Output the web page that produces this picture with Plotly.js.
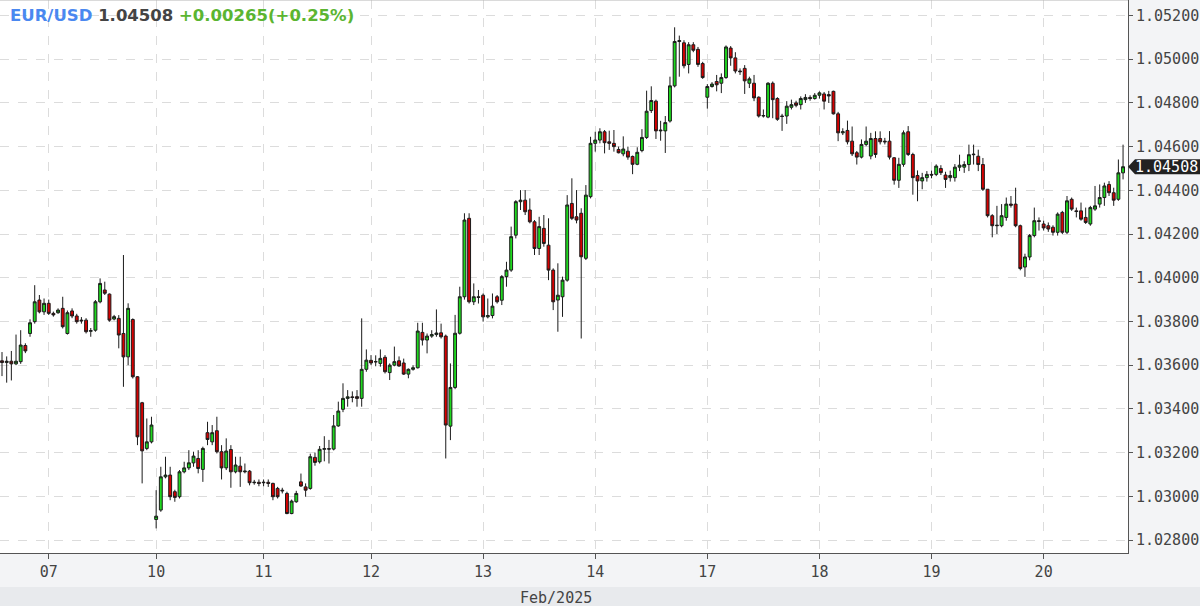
<!DOCTYPE html>
<html>
<head>
<meta charset="utf-8">
<script src="https://cdn.plot.ly/plotly-3.0.1.min.js"></script>
<style>
html,body{margin:0;padding:0;background:#f3f4f6;}
#chart{width:1200px;height:606px;}
</style>
</head>
<body>
<div id="chart"></div>
<script>
// ---- Data: hourly EUR/USD candles, rows are [open, high, low, close] ----
const symbol = "EUR/USD";
const prevClose = 1.04243;
const monthLabel = "Feb/2025";
const dayLabels = ["", "07", "10", "11", "12", "13", "14", "17", "18", "19", "20"];

const day06 = [
  [1.03620,1.03660,1.03550,1.03612],[1.03612,1.03640,1.03520,1.03618],[1.03618,1.03665,1.03530,1.03606],
  [1.03606,1.03740,1.03600,1.03618],[1.03616,1.03760,1.03606,1.03692],[1.03690,1.03700,1.03655,1.03665],
  [1.03745,1.03810,1.03730,1.03794],[1.03799,1.03966,1.03790,1.03890],[1.03898,1.03921,1.03837,1.03844],
  [1.03844,1.03905,1.03830,1.03883]
];
const day07 = [
  [1.03883,1.03900,1.03830,1.03837],[1.03837,1.03845,1.03822,1.03830],[1.03840,1.03860,1.03835,1.03852],
  [1.03860,1.03913,1.03768,1.03776],[1.03745,1.03850,1.03740,1.03840],[1.03848,1.03860,1.03815,1.03825],
  [1.03825,1.03835,1.03790,1.03799],[1.03806,1.03820,1.03790,1.03803],[1.03806,1.03815,1.03745,1.03753],
  [1.03755,1.03770,1.03730,1.03758],[1.03760,1.03898,1.03753,1.03890],[1.03890,1.03997,1.03883,1.03974],
  [1.03944,1.03982,1.03921,1.03929],[1.03925,1.03928,1.03799,1.03806],[1.03811,1.03830,1.03805,1.03822],
  [1.03814,1.03829,1.03677,1.03738],[1.03745,1.04104,1.03501,1.03638],[1.03638,1.03883,1.03600,1.03860],
  [1.03809,1.03814,1.03539,1.03547],[1.03547,1.03550,1.03234,1.03272],[1.03428,1.03432,1.03059,1.03208],
  [1.03219,1.03356,1.03211,1.03249],[1.03249,1.03364,1.03242,1.03326]
];
const day10 = [
  [1.02894,1.03028,1.02853,1.02909],[1.02937,1.03135,1.02929,1.03089],[1.03089,1.03181,1.03082,1.03097],
  [1.03097,1.03135,1.02982,1.02998],[1.03021,1.03030,1.02975,1.02995],[1.02998,1.03120,1.02990,1.03112],
  [1.03112,1.03158,1.03105,1.03130],[1.03130,1.03211,1.03120,1.03153],[1.03153,1.03204,1.03135,1.03184],
  [1.03173,1.03211,1.03105,1.03127],[1.03123,1.03227,1.03066,1.03219],[1.03291,1.03341,1.03234,1.03260],
  [1.03249,1.03326,1.03234,1.03291],[1.03300,1.03364,1.03196,1.03204],[1.03204,1.03234,1.03077,1.03130],
  [1.03130,1.03265,1.03120,1.03207],[1.03214,1.03234,1.03039,1.03112],[1.03112,1.03181,1.03105,1.03143],
  [1.03138,1.03181,1.03043,1.03112],[1.03112,1.03150,1.03105,1.03115],[1.03115,1.03120,1.03050,1.03062],
  [1.03062,1.03075,1.03053,1.03064],[1.03064,1.03077,1.03046,1.03059]
];
const day11 = [
  [1.03062,1.03077,1.03046,1.03064],[1.03064,1.03077,1.03043,1.03059],[1.03059,1.03062,1.02982,1.02998],
  [1.03036,1.03043,1.02990,1.02998],[1.03028,1.03039,1.03013,1.03025],[1.03013,1.03021,1.02918,1.02921],
  [1.02921,1.02985,1.02918,1.02978],[1.02975,1.03025,1.02970,1.03013],[1.03066,1.03104,1.03043,1.03047],
  [1.03043,1.03059,1.02998,1.03028],[1.03036,1.03195,1.03030,1.03181],[1.03178,1.03200,1.03140,1.03155],
  [1.03158,1.03230,1.03150,1.03215],[1.03215,1.03275,1.03160,1.03218],[1.03218,1.03258,1.03150,1.03216],
  [1.03216,1.03372,1.03210,1.03322],[1.03322,1.03433,1.03318,1.03390],[1.03398,1.03517,1.03385,1.03448],
  [1.03448,1.03486,1.03410,1.03455],[1.03455,1.03480,1.03430,1.03452],[1.03456,1.03486,1.03410,1.03448],
  [1.03448,1.03814,1.03410,1.03581],[1.03581,1.03672,1.03570,1.03623]
];
const day12 = [
  [1.03622,1.03646,1.03600,1.03610],[1.03615,1.03645,1.03595,1.03616],[1.03608,1.03672,1.03593,1.03631],
  [1.03636,1.03646,1.03562,1.03570],[1.03566,1.03608,1.03532,1.03600],[1.03600,1.03685,1.03595,1.03616],
  [1.03620,1.03640,1.03593,1.03596],[1.03610,1.03630,1.03555,1.03559],[1.03559,1.03585,1.03540,1.03581],
  [1.03581,1.03600,1.03575,1.03588],[1.03588,1.03794,1.03585,1.03756],[1.03750,1.03794,1.03690,1.03715],
  [1.03715,1.03745,1.03654,1.03733],[1.03733,1.03760,1.03725,1.03740],[1.03740,1.03855,1.03730,1.03747],
  [1.03748,1.03790,1.03722,1.03730],[1.03733,1.03740,1.03173,1.03326],[1.03321,1.03608,1.03257,1.03498],
  [1.03498,1.03830,1.03490,1.03746],[1.03746,1.03959,1.03740,1.03913],[1.03913,1.04295,1.03900,1.04264],
  [1.04272,1.04295,1.03882,1.03890],[1.03890,1.03974,1.03875,1.03913],[1.03913,1.03944,1.03882,1.03910]
];
const day13 = [
  [1.03920,1.03928,1.03799,1.03821],[1.03821,1.03905,1.03814,1.03827],[1.03827,1.03928,1.03814,1.03870],
  [1.03913,1.03921,1.03882,1.03890],[1.03897,1.04012,1.03875,1.04005],[1.04005,1.04073,1.03959,1.04035],
  [1.04035,1.04234,1.04027,1.04188],[1.04195,1.04355,1.04180,1.04348],[1.04348,1.04401,1.04310,1.04355],
  [1.04355,1.04401,1.04287,1.04302],[1.04310,1.04363,1.04249,1.04256],[1.04256,1.04264,1.04104,1.04134],
  [1.04134,1.04279,1.04104,1.04234],[1.04226,1.04287,1.04142,1.04157],[1.04149,1.04272,1.03989,1.04035],
  [1.04035,1.04043,1.03852,1.03890],[1.03898,1.04066,1.03753,1.03920],[1.03913,1.04005,1.03821,1.03989],
  [1.03989,1.04378,1.03982,1.04333],[1.04340,1.04455,1.04264,1.04272],[1.04279,1.04401,1.04249,1.04264],
  [1.04295,1.04318,1.03722,1.04096],[1.04089,1.04424,1.04081,1.04378],[1.04371,1.04645,1.04363,1.04615]
];
const day14 = [
  [1.04615,1.04668,1.04577,1.04630],[1.04630,1.04684,1.04615,1.04668],[1.04668,1.04676,1.04569,1.04618],
  [1.04622,1.04673,1.04585,1.04615],[1.04615,1.04676,1.04577,1.04600],[1.04587,1.04600,1.04569,1.04572],
  [1.04567,1.04647,1.04556,1.04589],[1.04579,1.04600,1.04540,1.04552],[1.04555,1.04559,1.04474,1.04519],
  [1.04519,1.04597,1.04515,1.04574],[1.04582,1.04680,1.04574,1.04642],[1.04642,1.04856,1.04635,1.04762],
  [1.04765,1.04876,1.04754,1.04811],[1.04808,1.04815,1.04635,1.04672],[1.04672,1.04718,1.04627,1.04675],
  [1.04672,1.04740,1.04571,1.04710],[1.04717,1.04920,1.04710,1.04878],[1.04878,1.05146,1.04871,1.05081],
  [1.05081,1.05108,1.04920,1.05085],[1.05075,1.05087,1.04958,1.04970],[1.04976,1.05078,1.04935,1.05066],
  [1.05066,1.05078,1.05032,1.05041],[1.05045,1.05056,1.04965,1.04976],[1.04980,1.04988,1.04910,1.04916]
];
const day17 = [
  [1.04826,1.04886,1.04774,1.04875],[1.04875,1.04895,1.04870,1.04886],[1.04898,1.04928,1.04853,1.04883],
  [1.04890,1.04935,1.04845,1.04916],[1.04916,1.05063,1.04910,1.05056],[1.05051,1.05060,1.04970,1.05006],
  [1.05006,1.05032,1.04935,1.04946],[1.04946,1.04958,1.04928,1.04943],[1.04958,1.04973,1.04841,1.04901],
  [1.04890,1.04920,1.04868,1.04910],[1.04890,1.04928,1.04808,1.04823],[1.04826,1.04830,1.04733,1.04740],
  [1.04740,1.04770,1.04733,1.04742],[1.04735,1.04895,1.04730,1.04890],[1.04890,1.04898,1.04730,1.04815],
  [1.04820,1.04826,1.04718,1.04725],[1.04740,1.04750,1.04672,1.04738],[1.04740,1.04808,1.04704,1.04785],
  [1.04780,1.04815,1.04770,1.04792],[1.04800,1.04810,1.04780,1.04789],[1.04792,1.04830,1.04770,1.04820],
  [1.04815,1.04840,1.04800,1.04825],[1.04825,1.04835,1.04810,1.04820],[1.04820,1.04845,1.04815,1.04835]
];
const day18 = [
  [1.04835,1.04853,1.04820,1.04846],[1.04841,1.04850,1.04770,1.04808],[1.04838,1.04855,1.04800,1.04832],
  [1.04853,1.04856,1.04747,1.04750],[1.04750,1.04759,1.04625,1.04663],[1.04663,1.04684,1.04653,1.04668],
  [1.04674,1.04719,1.04610,1.04622],[1.04625,1.04692,1.04557,1.04567],[1.04572,1.04580,1.04518,1.04552],
  [1.04552,1.04633,1.04546,1.04610],[1.04610,1.04692,1.04602,1.04625],[1.04557,1.04663,1.04542,1.04637],
  [1.04637,1.04670,1.04549,1.04564],[1.04637,1.04670,1.04610,1.04622],[1.04625,1.04640,1.04610,1.04622],
  [1.04625,1.04671,1.04541,1.04552],[1.04549,1.04552,1.04426,1.04446],[1.04446,1.04549,1.04411,1.04519],
  [1.04519,1.04674,1.04508,1.04663],[1.04668,1.04694,1.04557,1.04564],[1.04564,1.04572,1.04380,1.04458],
  [1.04468,1.04491,1.04350,1.04443],[1.04443,1.04480,1.04405,1.04458],[1.04458,1.04488,1.04440,1.04473]
];
const day19 = [
  [1.04473,1.04490,1.04455,1.04470],[1.04473,1.04519,1.04465,1.04511],[1.04500,1.04515,1.04470,1.04481],
  [1.04470,1.04485,1.04411,1.04450],[1.04458,1.04490,1.04440,1.04468],[1.04458,1.04520,1.04440,1.04506],
  [1.04506,1.04563,1.04488,1.04515],[1.04506,1.04533,1.04480,1.04518],[1.04518,1.04609,1.04488,1.04563],
  [1.04563,1.04609,1.04518,1.04565],[1.04556,1.04586,1.04488,1.04518],[1.04518,1.04548,1.04397,1.04405],
  [1.04405,1.04405,1.04276,1.04284],[1.04284,1.04291,1.04185,1.04238],[1.04238,1.04329,1.04200,1.04240],
  [1.04238,1.04337,1.04231,1.04284],[1.04276,1.04367,1.04261,1.04337],[1.04337,1.04374,1.04321,1.04332],
  [1.04337,1.04412,1.04231,1.04238],[1.04238,1.04243,1.04034,1.04042],[1.04049,1.04110,1.04004,1.04095],
  [1.04095,1.04200,1.04080,1.04193],[1.04193,1.04321,1.04185,1.04261],[1.04261,1.04276,1.04216,1.04258]
];
const day20 = [
  [1.04246,1.04261,1.04216,1.04228],[1.04238,1.04253,1.04210,1.04223],[1.04231,1.04240,1.04193,1.04208],
  [1.04208,1.04299,1.04193,1.04291],[1.04299,1.04306,1.04200,1.04208],[1.04208,1.04374,1.04200,1.04352],
  [1.04359,1.04367,1.04306,1.04314],[1.04306,1.04321,1.04276,1.04303],[1.04306,1.04344,1.04261,1.04268],
  [1.04276,1.04321,1.04246,1.04253],[1.04246,1.04329,1.04238,1.04321],[1.04314,1.04420,1.04306,1.04329],
  [1.04337,1.04427,1.04321,1.04367],[1.04367,1.04435,1.04329,1.04420],[1.04427,1.04442,1.04374,1.04389],
  [1.04389,1.04412,1.04329,1.04355],[1.04359,1.04541,1.04352,1.04480],[1.04480,1.04609,1.04450,1.04508]
];

const days = [day06, day07, day10, day11, day12, day13, day14, day17, day18, day19, day20];

// ---- Build series ----
const rows = days.flat();
const idx = rows.map((_, i) => i);
const open = rows.map(r => r[0]);
const high = rows.map(r => r[1]);
const low = rows.map(r => r[2]);
const close = rows.map(r => r[3]);

const tickVals = [], tickText = [];
let start = 0;
days.forEach((d, k) => {
  if (dayLabels[k]) { tickVals.push(start); tickText.push(dayLabels[k]); }
  start += d.length;
});

const last = close[close.length - 1];
const chg = last - prevClose;
const pct = chg / prevClose * 100;
const sign = chg >= 0 ? "+" : "-";

const axisFont = {family: "DejaVu Sans Mono, monospace", size: 15, color: "#444"};

const trace = {
  type: "candlestick",
  x: idx, open: open, high: high, low: low, close: close,
  increasing: {line: {color: "#1b1b1b", width: 1}, fillcolor: "#1ed81e"},
  decreasing: {line: {color: "#1b1b1b", width: 1}, fillcolor: "#d60000"},
  whiskerwidth: 0,
  hoverinfo: "skip"
};

const layout = {
  width: 1200, height: 606,
  margin: {l: 0, r: 72, t: 0, b: 53, pad: 0},
  paper_bgcolor: "#f3f4f6",
  plot_bgcolor: "#ffffff",
  showlegend: false,
  boxgap: 0.12,
  xaxis: {
    type: "linear",
    range: [-0.43, 241.06],
    tickvals: tickVals, ticktext: tickText,
    showgrid: true, gridcolor: "#dcdcdc", griddash: "dash", gridwidth: 1,
    ticks: "outside", ticklen: 5, tickcolor: "#555",
    showline: true, linecolor: "#555", linewidth: 1,
    zeroline: false,
    rangeslider: {visible: false},
    tickfont: axisFont,
    fixedrange: true
  },
  yaxis: {
    side: "right",
    range: [1.027405, 1.052709],
    tick0: 1.028, dtick: 0.002, tickformat: ".5f",
    showgrid: true, gridcolor: "#dcdcdc", griddash: "dash", gridwidth: 1,
    ticks: "outside", ticklen: 4, tickcolor: "#555",
    showline: true, linecolor: "#555", linewidth: 1,
    zeroline: false,
    tickfont: axisFont,
    fixedrange: true
  },
  shapes: [
    {type: "line", xref: "paper", yref: "paper", x0: 0, x1: 1, y0: 1, y1: 1,
     line: {color: "#b5b5b5", width: 1}},
    {type: "rect", xref: "paper", yref: "paper", x0: 0, x1: 1.07, y0: -0.0958, y1: -0.0615,
     fillcolor: "#e8eaed", line: {width: 0}, layer: "below"},
    {type: "path", xref: "paper", yref: "y", xsizemode: "pixel", ysizemode: "pixel",
     xanchor: 1, yanchor: last,
     path: "M0,0 L7,7.5 L72,7.5 L72,-7.5 L7,-7.5 Z",
     fillcolor: "#222222", line: {width: 0}}
  ],
  annotations: [
    {xref: "paper", yref: "paper", x: 0, y: 1, xanchor: "left", yanchor: "top",
     xshift: 8, yshift: -4, showarrow: false,
     font: {family: "DejaVu Sans, sans-serif", size: 16.5, color: "#444"},
     text: "<b><span style='color:#4a88f0'>" + symbol + "</span> " + last.toFixed(5) +
           " <span style='color:#5bb531'>" + sign + Math.abs(chg).toFixed(5) + "(" + sign + Math.abs(pct).toFixed(2) + "%)</span></b>"},
    {xref: "paper", yref: "y", x: 1, y: last, xanchor: "left", yanchor: "middle",
     xshift: 5, showarrow: false,
     font: {family: "DejaVu Sans Mono, monospace", size: 15, color: "#ffffff"},
     text: last.toFixed(5)},
    {xref: "paper", yref: "paper", x: 0.493, y: -0.0814, xanchor: "center", yanchor: "middle",
     showarrow: false, font: axisFont, text: monthLabel}
  ]
};

Plotly.newPlot("chart", [trace], layout, {displayModeBar: false, staticPlot: true});
</script>
</body>
</html>
